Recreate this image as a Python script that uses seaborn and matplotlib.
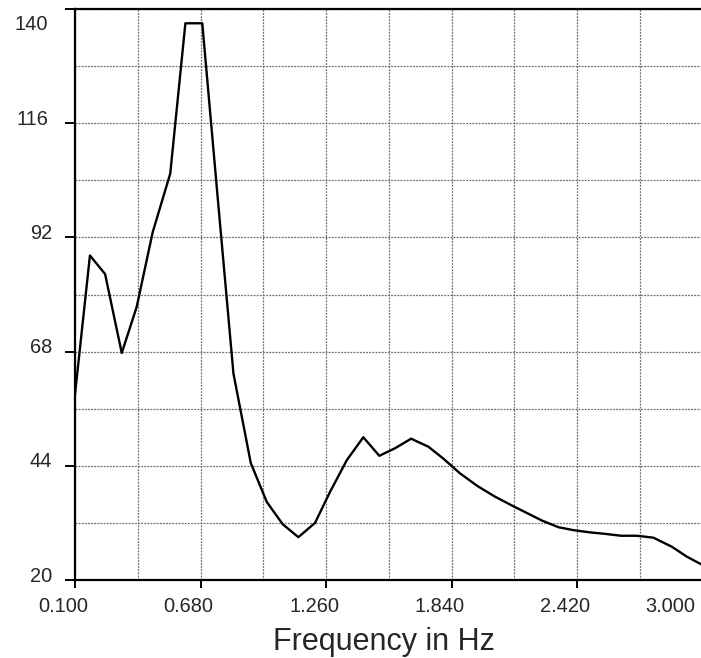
import matplotlib
matplotlib.use("Agg")
import matplotlib.pyplot as plt
import matplotlib.transforms as mtransforms
import seaborn as sns
import pandas as pd

# ---- data ----
freq_hz = [0.100, 0.169, 0.239, 0.316, 0.385, 0.459, 0.540, 0.610, 0.688, 0.757,
           0.832, 0.912, 0.986, 1.060, 1.132, 1.209, 1.278, 1.356, 1.432, 1.506,
           1.579, 1.653, 1.733, 1.802, 1.879, 1.961, 2.041, 2.121, 2.187, 2.257,
           2.333, 2.400, 2.480, 2.549, 2.622, 2.695, 2.772, 2.857, 2.927, 2.993]
amplitude = [59.0, 88.2, 84.3, 67.7, 77.4, 93.1, 105.4, 137.0, 137.0, 101.5,
             63.4, 44.6, 36.4, 31.7, 29.0, 32.0, 38.5, 45.2, 50.0, 46.1,
             47.7, 49.7, 48.0, 45.5, 42.4, 39.7, 37.5, 35.6, 34.1, 32.5,
             31.1, 30.5, 30.0, 29.7, 29.3, 29.3, 28.9, 27.0, 24.9, 23.3]
x_ticks = [0.100, 0.680, 1.260, 1.840, 2.420, 3.000]
x_minor = [0.390, 0.970, 1.550, 2.130, 2.710]
y_ticks = [20, 44, 68, 92, 116, 140]
y_minor = [32, 56, 80, 104, 128]
x_title = "Frequency in Hz"

df = pd.DataFrame({"freq": freq_hz, "amp": amplitude})

sns.set_theme(style="white")
plt.rcParams["font.family"] = ["Liberation Sans", "DejaVu Sans"]

W, H = 701, 658
fig = plt.figure(figsize=(W / 100, H / 100), dpi=100)
fig.patch.set_facecolor("white")
left_px, right_px, bottom_px, top_px = 75, 702.7, 580, 9
ax = fig.add_axes([left_px / W, (H - bottom_px) / H,
                   (right_px - left_px) / W, (bottom_px - top_px) / H])
ax.set_facecolor("white")

sns.lineplot(data=df, x="freq", y="amp", ax=ax, color="black", linewidth=1.7)

ax.set_xlim(0.1, 3.0)
ax.set_ylim(20, 140)
ax.set_xticks(x_ticks)
ax.set_xticks(x_minor, minor=True)
ax.set_yticks(y_ticks)
ax.set_yticks(y_minor, minor=True)
ax.set_xticklabels([f"{v:.3f}" for v in x_ticks])
ax.set_yticklabels([str(v) for v in y_ticks])

ax.grid(True, which="both", color="#6e6e6e", linestyle=(0, (1.5, 1)), linewidth=0.9)
ax.set_axisbelow(True)

for side in ["left", "bottom", "top"]:
    ax.spines[side].set_visible(True)
    ax.spines[side].set_color("black")
    ax.spines[side].set_linewidth(1.6)
ax.spines["right"].set_visible(False)

ax.tick_params(axis="x", which="major", direction="out", length=6, width=1.4,
               color="black", labelsize=14.4, pad=6, bottom=True)
ax.tick_params(axis="y", which="major", direction="out", length=7.5, width=1.4,
               color="black", labelsize=14.4, pad=9, left=True)
ax.tick_params(which="minor", length=0)

# shift tick labels like the reference
for lbl, v in zip(ax.get_xticklabels(), x_ticks):
    dx = -32 if v == 3.0 else -12
    lbl.set_transform(lbl.get_transform() +
                      mtransforms.ScaledTranslation(dx / 100, 0, fig.dpi_scale_trans))
for lbl, v in zip(ax.get_yticklabels(), y_ticks):
    dy = -13 if v == 140 else 6
    dx = -4 if v >= 100 else 0
    lbl.set_transform(lbl.get_transform() +
                      mtransforms.ScaledTranslation(dx / 100, dy / 100, fig.dpi_scale_trans))

ax.set_xlabel(x_title, fontsize=22)
ax.xaxis.set_label_coords((383.5 - left_px) / (right_px - left_px), 0.0)
ax.xaxis.label.set_verticalalignment("bottom")
ax.xaxis.label.set_transform(ax.transAxes + mtransforms.ScaledTranslation(0, -(658 - 580 - 1) / 100, fig.dpi_scale_trans))
ax.set_ylabel("")

fig.savefig("out.png", dpi=100, facecolor=fig.get_facecolor())
